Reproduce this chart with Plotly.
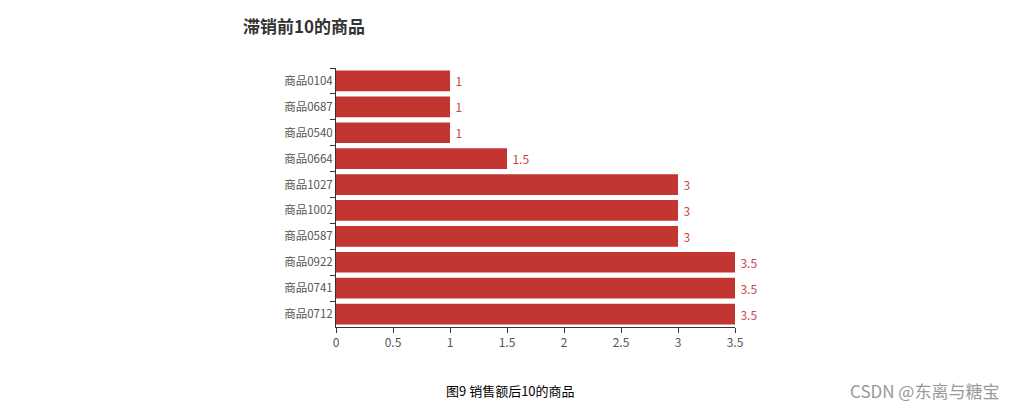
import plotly.graph_objects as go

categories = ["商品0104", "商品0687", "商品0540", "商品0664", "商品1027",
              "商品1002", "商品0587", "商品0922", "商品0741", "商品0712"]
values = [1, 1, 1, 1.5, 3, 3, 3, 3.5, 3.5, 3.5]
x_ticks = [0, 0.5, 1, 1.5, 2, 2.5, 3, 3.5]
x_tick_labels = ["0", "0.5", "1", "1.5", "2", "2.5", "3", "3.5"]

FONT = "Noto Sans CJK SC"
BAR = "#c23531"

# page has an 8px body offset
L, R, T, B = 328, 288, 60, 93
PW, PH = 1015 - L - R, 412 - T - B

def px(x):  # page x -> paper
    return (x - 8 - L) / PW

def py(y):  # page y -> paper
    return 1 - (y - 8 - T) / PH

fig = go.Figure(go.Bar(
    x=values, y=categories, orientation="h",
    marker=dict(color=BAR, line=dict(width=0)),
    text=[f"\u2009{v:g}" for v in values], textposition="outside",
    textfont=dict(color="#c44a47", size=12, family=FONT),
    cliponaxis=False,
))

fig.update_layout(
    width=1015, height=412,
    margin=dict(l=L, r=R, t=T, b=B),
    paper_bgcolor="white", plot_bgcolor="white",
    bargap=0.2, showlegend=False,
    font=dict(family=FONT, size=12, color="#333"),
    annotations=[
        dict(text="<b>滞销前10的商品</b>", xref="paper", yref="paper",
             x=px(241), y=py(25), xanchor="left", yanchor="middle",
             showarrow=False, font=dict(size=17, color="#333", family=FONT)),
        dict(text="图9 销售额后10的商品", xref="paper", yref="paper",
             x=px(444), y=py(390), xanchor="left", yanchor="middle",
             showarrow=False, font=dict(size=13, color="#000", family=FONT)),
        dict(text="CSDN @东离与糖宝", xref="paper", yref="paper",
             x=px(1001), y=py(390), xanchor="right", yanchor="middle",
             showarrow=False, font=dict(size=17, color="#999", family=FONT)),
    ],
)

fig.update_xaxes(
    range=[0, 3.5], tickvals=x_ticks, ticktext=x_tick_labels,
    showgrid=False, zeroline=False,
    showline=True, linecolor="#333", linewidth=1,
    ticks="outside", ticklen=5, tickcolor="#333",
    tickfont=dict(size=12, color="#555"),
)
fig.update_yaxes(
    type="category", categoryorder="array", categoryarray=categories,
    range=[9.5, -0.5], tickson="boundaries",
    showgrid=False, zeroline=False,
    showline=True, linecolor="#333", linewidth=1,
    ticks="outside", ticklen=5, tickcolor="#333",
    tickfont=dict(size=11.5, color="#555"),
)

fig.write_html("out.html")
